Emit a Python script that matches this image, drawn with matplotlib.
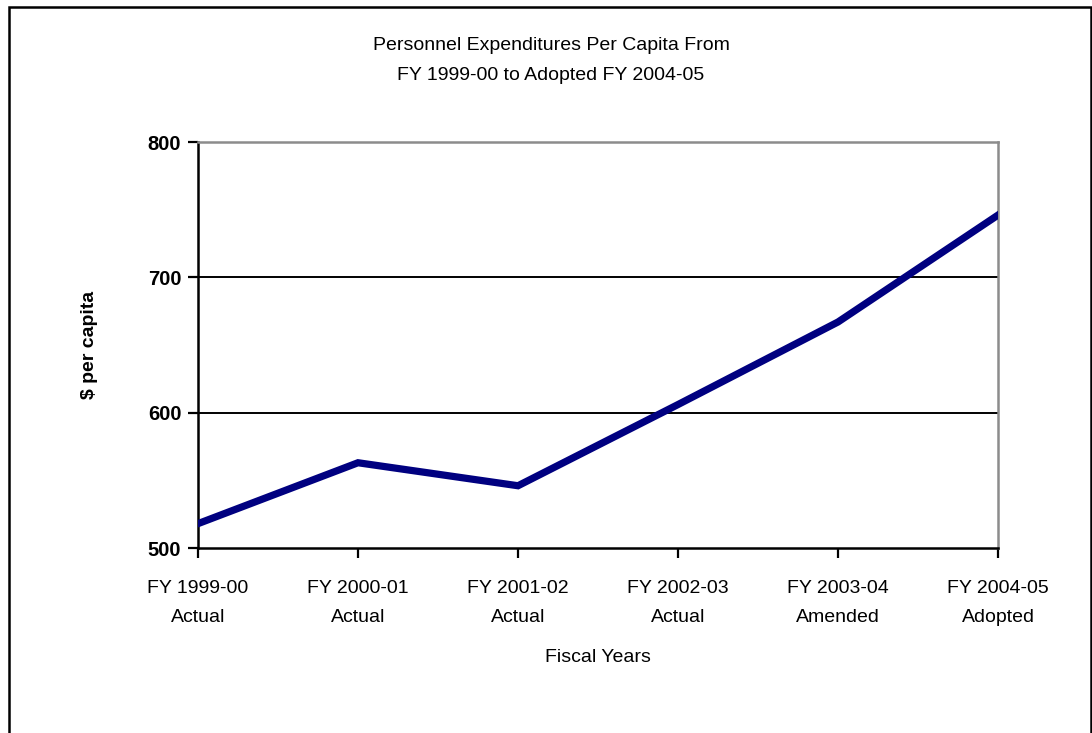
import matplotlib.pyplot as plt
from matplotlib.patches import Rectangle

# Personnel expenditures per capita, FY 1999-00 .. FY 2004-05
years = ["FY 1999-00\nActual", "FY 2000-01\nActual", "FY 2001-02\nActual",
         "FY 2002-03\nActual", "FY 2003-04\nAmended", "FY 2004-05\nAdopted"]
per_capita = [518, 563, 546, 606, 667, 746]
y_ticks = [500, 600, 700, 800]

plt.rcParams['font.family'] = ['Liberation Sans Narrow', 'Liberation Sans', 'DejaVu Sans']

W, H = 1092, 733
fig = plt.figure(figsize=(W / 100, H / 100), dpi=100)
ax = fig.add_axes([198 / W, 1 - 548 / H, 800 / W, 406 / H])

x = list(range(len(years)))
ax.plot(x, per_capita, color='#000080', lw=5.2, solid_joinstyle='miter', zorder=3)

ax.set_xlim(0, len(years) - 1)
ax.set_ylim(500, 800)
ax.set_yticks(y_ticks)
ax.set_yticklabels([str(v) for v in y_ticks], fontweight='bold', fontsize=14.5)
ax.set_xticks(x)
ax.set_xticklabels(years, fontsize=14, linespacing=1.95)

for v in y_ticks[1:-1]:
    ax.axhline(v, color='black', lw=1.4, zorder=1)

ax.tick_params(axis='y', direction='out', length=7, width=1.6, pad=5)
ax.tick_params(axis='x', direction='out', length=7, width=1.6, pad=16)

for side in ('left', 'bottom'):
    ax.spines[side].set_linewidth(1.8)
    ax.spines[side].set_color('black')
for side in ('top', 'right'):
    ax.spines[side].set_linewidth(1.8)
    ax.spines[side].set_color('#8c8c8c')

ax.set_ylabel("$ per capita", fontsize=14, fontweight='bold')
ax.yaxis.set_label_coords(-100 / 800, 0.5)
fig.text(598 / W, 1 - 657 / H, "Fiscal Years", ha='center', va='center', fontsize=14)

fig.text(551 / W, 1 - 46 / H, "Personnel Expenditures Per Capita From",
         ha='center', va='center', fontsize=14)
fig.text(551 / W, 1 - 75 / H, "FY 1999-00 to Adopted FY 2004-05",
         ha='center', va='center', fontsize=14)

# outer chart frame (bottom edge runs past the page)
fig.patches.append(Rectangle((8.5 / W, -0.05), (1090.5 - 8.5) / W, 1.05 - 7 / H,
                             transform=fig.transFigure, fill=False,
                             edgecolor='black', lw=1.8))

fig.savefig("out.png", dpi=100)
